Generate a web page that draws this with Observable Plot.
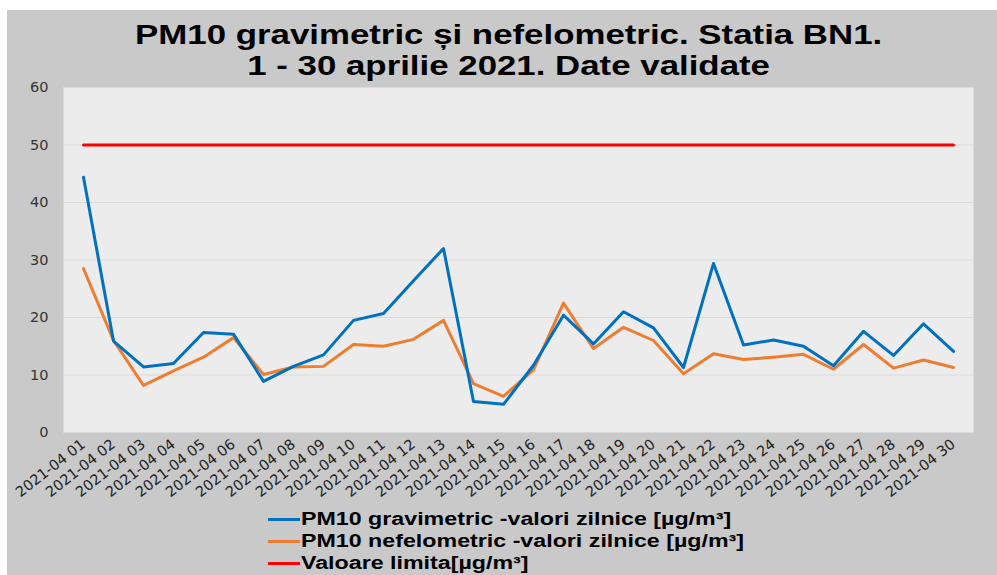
<!DOCTYPE html>
<html>
<head>
<meta charset="utf-8">
<script src="https://cdn.jsdelivr.net/npm/d3@7"></script>
<script src="https://cdn.jsdelivr.net/npm/@observablehq/plot@0.6"></script>
<style>
  html, body { margin: 0; padding: 0; background: #ffffff; }
  #wrap {
    position: absolute; left: 7px; top: 10px; width: 990px; height: 565px;
    background: #c9c9c9; overflow: hidden;
  }
  #title {
    height: 70px; box-sizing: border-box; padding-top: 10px; padding-left: 14px;
    font-family: "Liberation Sans", Arial, sans-serif; font-weight: bold; font-size: 27px;
    color: #000;
  }
  .tline { height: 31px; line-height: 31px; text-align: center; white-space: nowrap; }
  .tline span { display: inline-block; transform: scaleX(1.29); transform-origin: 50% 50%; }
  #chart { height: 425px; }
  #chart svg { display: block; }
  #legend {
    height: 70px; box-sizing: border-box; padding-top: 3px; padding-left: 261px;
    font-family: "Liberation Sans", Arial, sans-serif; font-weight: bold; font-size: 18px;
    color: #000;
  }
  .row { display: flex; align-items: center; height: 22px; line-height: 22px; white-space: nowrap; }
  .sw { width: 32px; height: 3px; margin-right: 1px; flex: none; }
  .lt { display: inline-block; transform: scaleX(1.29); transform-origin: 0 50%; }
</style>
</head>
<body>
<div id="wrap">
  <div id="title">
    <div class="tline"><span>PM10 gravimetric și nefelometric. Statia BN1.</span></div>
    <div class="tline"><span>1 - 30 aprilie 2021. Date validate</span></div>
  </div>
  <div id="chart"></div>
  <div id="legend"></div>
</div>
<script>
const dates = [
  "2021-04 01","2021-04 02","2021-04 03","2021-04 04","2021-04 05","2021-04 06",
  "2021-04 07","2021-04 08","2021-04 09","2021-04 10","2021-04 11","2021-04 12",
  "2021-04 13","2021-04 14","2021-04 15","2021-04 16","2021-04 17","2021-04 18",
  "2021-04 19","2021-04 20","2021-04 21","2021-04 22","2021-04 23","2021-04 24",
  "2021-04 25","2021-04 26","2021-04 27","2021-04 28","2021-04 29","2021-04 30"
];
const gravimetric = [44.4, 15.9, 11.4, 12.0, 17.4, 17.1, 8.9, 11.5, 13.5, 19.5,
  20.7, 26.4, 32.0, 5.4, 4.9, 11.7, 20.4, 15.4, 21.0, 18.2,
  11.3, 29.4, 15.2, 16.1, 15.0, 11.6, 17.6, 13.4, 18.9, 14.1];
const nefelometric = [28.5, 16.0, 8.2, 10.7, 13.1, 16.5, 10.1, 11.4, 11.5, 15.3,
  15.0, 16.2, 19.5, 8.5, 6.3, 10.9, 22.5, 14.6, 18.3, 16.0,
  10.2, 13.7, 12.7, 13.1, 13.6, 11.0, 15.3, 11.2, 12.6, 11.3];
const limitValue = 50;
const yTicks = [0, 10, 20, 30, 40, 50, 60];
const seriesNames = [
  "PM10 gravimetric -valori zilnice [µg/m³]",
  "PM10 nefelometric -valori zilnice [µg/m³]",
  "Valoare limita[µg/m³]"
];
const seriesColors = ["#0070c0", "#ed7d31", "#ff0000"];

const gravData = dates.map((d, i) => ({date: d, value: gravimetric[i]}));
const nefData = dates.map((d, i) => ({date: d, value: nefelometric[i]}));
const limitData = dates.map(d => ({date: d, value: limitValue}));

const lineOpts = {strokeWidth: 3, strokeLinejoin: "round", strokeLinecap: "round"};

const chart = Plot.plot({
  width: 990,
  height: 425,
  marginTop: 7,
  marginBottom: 73,
  marginLeft: 56,
  marginRight: 24,
  style: {fontFamily: "DejaVu Sans, sans-serif", fontSize: "14.5px", color: "#333", background: "transparent", overflow: "visible"},
  x: {type: "point", domain: dates, padding: 0.5, align: 0.5},
  y: {domain: [0, 60]},
  marks: [
    Plot.frame({fill: "#ececec", stroke: null}),
    Plot.gridY(yTicks, {stroke: "#d9d9d9", strokeOpacity: 1, strokeWidth: 1.2}),
    Plot.axisY({ticks: yTicks, tickSize: 0, tickPadding: 15, label: null, fill: "#333"}),
    Plot.axisX({tickSize: 0, tickPadding: 10, tickRotate: -38, label: null, fill: "#222", tickFormat: d => d}),
    Plot.lineY(limitData, {x: "date", y: "value", stroke: seriesColors[2], ...lineOpts}),
    Plot.lineY(nefData, {x: "date", y: "value", stroke: seriesColors[1], ...lineOpts}),
    Plot.lineY(gravData, {x: "date", y: "value", stroke: seriesColors[0], ...lineOpts})
  ]
});
document.getElementById("chart").appendChild(chart);

const legend = document.getElementById("legend");
seriesNames.forEach((name, i) => {
  const row = document.createElement("div");
  row.className = "row";
  const sw = document.createElement("span");
  sw.className = "sw";
  sw.style.background = seriesColors[i];
  const tx = document.createElement("span");
  tx.className = "lt";
  tx.textContent = name;
  row.appendChild(sw);
  row.appendChild(tx);
  legend.appendChild(row);
});
</script>
</body>
</html>
